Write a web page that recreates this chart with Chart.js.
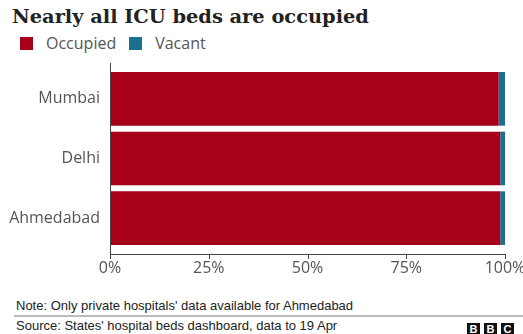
<!DOCTYPE html>
<html>
<head>
<meta charset="utf-8">
<script src="https://cdn.jsdelivr.net/npm/chart.js@4"></script>
<style>
  html, body { margin:0; padding:0; background:#fff; width:523px; height:334px; overflow:hidden; }
  #title { position:absolute; left:12px; top:5px; font-family:"DejaVu Serif", serif; font-weight:bold; font-size:19.4px; color:#222; white-space:nowrap; }
  #legend { position:absolute; left:20px; top:32px; font-family:"Open Sans", sans-serif; font-size:16px; color:#555; white-space:nowrap; }
  #legend span.sw { display:inline-block; width:13px; height:13px; vertical-align:-1px; }
  #legend span.lb { margin-left:13px; margin-right:13px; }
  #wrap { position:absolute; left:0; top:60px; width:523px; height:225px; }
  #note { position:absolute; left:16px; top:298px; font-family:"Liberation Sans", Arial, sans-serif; font-size:13px; color:#222; white-space:nowrap; }
  #rule { position:absolute; left:14px; right:0; top:315px; height:2px; background:#bbb; }
  #source { position:absolute; left:16px; top:318px; font-family:"Liberation Sans", Arial, sans-serif; font-size:13px; color:#222; white-space:nowrap; }
  #bbc { position:absolute; left:467px; top:319px; }
  #bbc span { display:inline-block; width:13px; height:13px; background:#111; color:#fff; font-family:"Liberation Sans", Arial, sans-serif; font-weight:bold; font-size:11px; line-height:13px; text-align:center; margin-right:4px; }
</style>
</head>
<body>
<div id="title">Nearly all ICU beds are occupied</div>
<div id="legend"><span class="sw" style="background:#a6001a"></span><span class="lb">Occupied</span><span class="sw" style="background:#1a6f93"></span><span class="lb">Vacant</span></div>
<div id="wrap"><canvas id="c" width="523" height="225"></canvas></div>
<div id="note">Note: Only private hospitals' data available for Ahmedabad</div>
<div id="rule"></div>
<div id="source">Source: States' hospital beds dashboard, data to 19 Apr</div>
<div id="bbc"><span>B</span><span>B</span><span>C</span></div>
<script>
const categories = ["Mumbai", "Delhi", "Ahmedabad"];
const occupied = [98.4, 98.8, 98.8];
const vacant = [1.6, 1.2, 1.2];
const xTicks = [0, 25, 50, 75, 100];

const axisPlugin = {
  id: 'customAxes',
  afterDraw(chart) {
    const ctx = chart.ctx;
    const a = chart.chartArea;
    const xs = chart.scales.x;
    const yb = a.bottom + 6;
    ctx.save();
    ctx.strokeStyle = '#444';
    ctx.lineWidth = 1;
    ctx.beginPath();
    ctx.moveTo(a.left + 0.5, a.top - 6);
    ctx.lineTo(a.left + 0.5, yb);
    ctx.moveTo(a.left, yb + 0.5);
    ctx.lineTo(a.right, yb + 0.5);
    xTicks.forEach(v => {
      const px = Math.round(xs.getPixelForValue(v)) + 0.5;
      ctx.moveTo(px, yb);
      ctx.lineTo(px, yb + 5);
    });
    ctx.stroke();
    ctx.restore();
  }
};

new Chart(document.getElementById('c'), {
  type: 'bar',
  data: {
    labels: categories,
    datasets: [
      { label: 'Occupied', data: occupied, backgroundColor: '#a6001a', borderWidth: 0, barPercentage: 0.9, categoryPercentage: 1 },
      { label: 'Vacant', data: vacant, backgroundColor: '#1a6f93', borderWidth: 0, barPercentage: 0.9, categoryPercentage: 1 }
    ]
  },
  options: {
    indexAxis: 'y',
    responsive: false,
    animation: false,
    events: [],
    layout: { padding: { top: 9, right: 18, left: 0, bottom: 0 } },
    plugins: { legend: { display: false }, title: { display: false }, tooltip: { enabled: false } },
    scales: {
      x: {
        stacked: true,
        min: 0, max: 100,
        afterBuildTicks(s) { s.ticks = xTicks.map(v => ({ value: v })); },
        afterFit(s) { s.height = 37; s.paddingLeft = 0; s.paddingRight = 0; },
        grid: { display: false, drawTicks: false },
        border: { display: false },
        ticks: { padding: 11, color: '#555', font: { family: 'Open Sans', size: 16 }, callback: v => v + '%', maxRotation: 0 }
      },
      y: {
        stacked: true,
        afterFit(s) { s.width = 110; s.paddingTop = 0; s.paddingBottom = 0; },
        grid: { display: false, drawTicks: false },
        border: { display: false },
        ticks: { padding: 10, color: '#555', font: { family: 'Open Sans', size: 16 } }
      }
    }
  },
  plugins: [axisPlugin]
});
</script>
</body>
</html>
